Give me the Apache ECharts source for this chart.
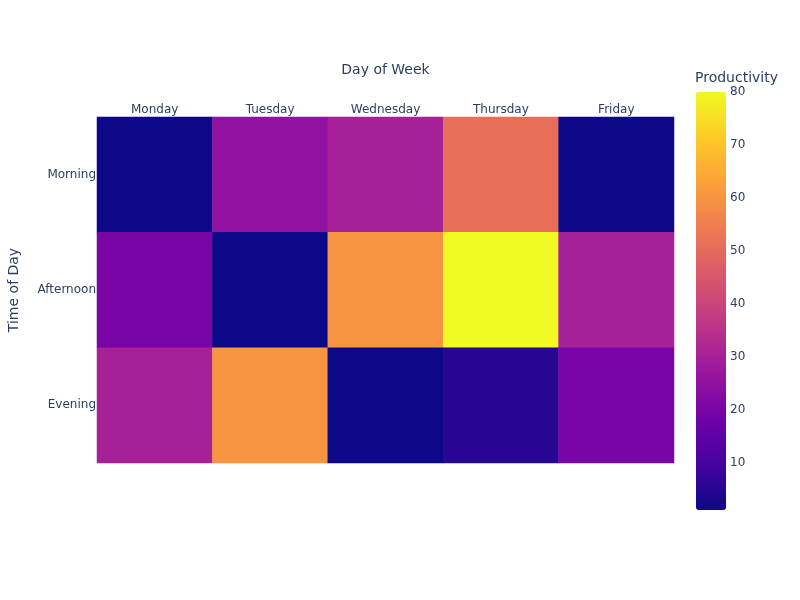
<!DOCTYPE html>
<html>
<head>
<meta charset="utf-8">
<script src="https://cdn.jsdelivr.net/npm/echarts@6/dist/echarts.min.js"></script>
<style>
  html, body { margin: 0; padding: 0; background: #fff; }
  #chart { width: 800px; height: 600px; }
</style>
</head>
<body>
<div id="chart"></div>
<script>
// productivity by day and time of day
var days = ['Monday', 'Tuesday', 'Wednesday', 'Thursday', 'Friday'];
var times = ['Morning', 'Afternoon', 'Evening'];
var morning = [1, 25, 30, 51, 1];
var afternoon = [20, 1, 60, 80, 30];
var evening = [30, 60, 1, 5, 20];
var colorTicks = [10, 20, 30, 40, 50, 60, 70, 80];

var plasma = ['#0d0887', '#46039f', '#7201a8', '#9c179e', '#bd3786',
  '#d8576b', '#ed7953', '#fb9f3a', '#fdca26', '#f0f921'];
var textColor = '#2a3f5f';
var font = '"DejaVu Sans", Verdana, sans-serif';

var rows = [morning, afternoon, evening];
var cells = [];
rows.forEach(function (row, y) {
  row.forEach(function (v, x) {
    cells.push([x, y, v]);
  });
});
var vMin = Math.min.apply(null, cells.map(function (c) { return c[2]; }));
var vMax = Math.max.apply(null, cells.map(function (c) { return c[2]; }));

var chart = echarts.init(document.getElementById('chart'));
chart.setOption({
  backgroundColor: '#fff',
  textStyle: { fontFamily: font, color: textColor },
  title: {
    text: 'Productivity',
    left: 695,
    top: 71,
    padding: 0,
    textStyle: { fontFamily: font, fontSize: 14, fontWeight: 'normal', color: textColor }
  },
  grid: [
    { left: 97, top: 117, width: 577, height: 346, outerBoundsMode: 'none', containLabel: false },
    { left: 696, top: 92, width: 30, height: 418, outerBoundsMode: 'none', containLabel: false }
  ],
  xAxis: [{
    type: 'category',
    data: days,
    position: 'top',
    gridIndex: 0,
    axisLine: { show: false },
    axisTick: { show: false },
    splitLine: { show: false },
    axisLabel: { fontSize: 12, color: textColor, margin: 1 },
    name: 'Day of Week',
    nameLocation: 'middle',
    nameGap: 40,
    nameTextStyle: { fontSize: 14, color: textColor }
  }, {
    type: 'category',
    gridIndex: 1,
    show: false,
    data: ['']
  }],
  yAxis: [{
    type: 'category',
    data: times,
    inverse: true,
    gridIndex: 0,
    axisLine: { show: false },
    axisTick: { show: false },
    splitLine: { show: false },
    axisLabel: { fontSize: 12, color: textColor, margin: 1 },
    name: 'Time of Day',
    nameLocation: 'middle',
    nameGap: 76,
    nameTextStyle: { fontSize: 14, color: textColor }
  }, {
    type: 'value',
    gridIndex: 1,
    position: 'right',
    min: vMin,
    max: vMax,
    axisLine: { show: false },
    axisTick: { show: false },
    splitLine: { show: false },
    axisLabel: { fontSize: 12, color: textColor, margin: 4, customValues: colorTicks }
  }],
  visualMap: {
    type: 'continuous',
    min: vMin,
    max: vMax,
    calculable: false,
    seriesIndex: 0,
    left: 696,
    top: 92,
    itemWidth: 30,
    itemHeight: 418,
    padding: 0,
    text: null,
    showLabel: false,
    inRange: { color: plasma }
  },
  series: [{
    type: 'heatmap',
    xAxisIndex: 0,
    yAxisIndex: 0,
    data: cells,
    itemStyle: { borderWidth: 0 },
    emphasis: { disabled: true }
  }]
});
</script>
</body>
</html>
